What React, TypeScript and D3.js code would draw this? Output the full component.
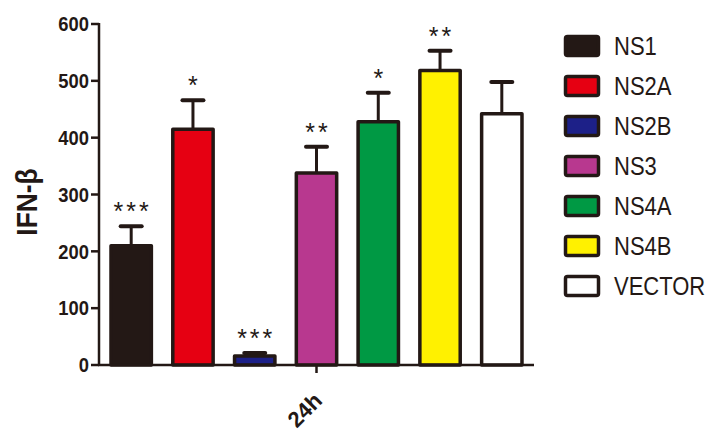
import React from "react";
import * as d3 from "d3";

const categories = ["NS1", "NS2A", "NS2B", "NS3", "NS4A", "NS4B", "VECTOR"];
const means = [210, 415, 16, 338, 428, 518, 442];
const errors = [34, 51, 5, 46, 51, 35, 56];
const stars = ["***", "*", "***", "**", "*", "**", ""];
const colors = ["#231815", "#e60012", "#1d2088", "#b8388f", "#009944", "#fff100", "#ffffff"];
const yTicks = [0, 100, 200, 300, 400, 500, 600];
const groupLabel = "24h";
const yTitle = "IFN-β";

const ink = "#231815";
const font = "'Liberation Sans', Arial, sans-serif";

export default function App() {
  const y = d3.scaleLinear().domain([0, 600]).range([365, 24]);
  const x = d3
    .scaleBand<string>()
    .domain(categories)
    .range([100, 533])
    .paddingInner(0.29)
    .paddingOuter(0.15);
  const bw = x.bandwidth();
  const sw = 3.5;
  const centerX = (x(categories[0])! + x(categories[categories.length - 1])! + bw) / 2;

  return (
    <svg
      width={724}
      height={444}
      style={{ position: "absolute", left: 0, top: 0, background: "#fff" }}
      fontFamily={font}
    >
      {/* bars */}
      {categories.map((c, i) => {
        const x0 = x(c)!;
        const top = y(means[i]);
        const cx = x0 + bw / 2;
        const capY = y(means[i] + errors[i]);
        return (
          <g key={c}>
            <line x1={cx} x2={cx} y1={top} y2={capY} stroke={ink} strokeWidth={3} />
            <line
              x1={cx - 10.5}
              x2={cx + 10.5}
              y1={capY}
              y2={capY}
              stroke={ink}
              strokeWidth={4}
              strokeLinecap="round"
            />
            <rect
              x={x0 + sw / 2}
              y={top}
              width={bw - sw}
              height={y(0) - top}
              fill={colors[i]}
              stroke={ink}
              strokeWidth={sw}
              strokeLinejoin="round"
            />
            {stars[i] && (
              <text
                x={cx + 1.5}
                y={capY - 6}
                textAnchor="middle"
                fontSize={25}
                letterSpacing={3}
                fill={ink}
              >
                {stars[i]}
              </text>
            )}
          </g>
        );
      })}

      {/* y axis */}
      <line x1={99} x2={99} y1={y(600) - 1} y2={y(0) + 1} stroke={ink} strokeWidth={2.5} />
      {yTicks.map((t) => (
        <g key={t}>
          <line x1={91} x2={99} y1={y(t)} y2={y(t)} stroke={ink} strokeWidth={2.5} />
          <text
            transform={`translate(89,${y(t)}) scale(0.92,1)`}
            dy="0.36em"
            textAnchor="end"
            fontSize={20}
            fontWeight="bold"
            fill={ink}
          >
            {t}
          </text>
        </g>
      ))}

      {/* x axis */}
      <line x1={98} x2={534} y1={y(0)} y2={y(0)} stroke={ink} strokeWidth={2.5} />
      <line x1={centerX} x2={centerX} y1={y(0)} y2={y(0) + 8} stroke={ink} strokeWidth={2.5} />
      <text
        transform={`translate(${centerX + 7},${y(0) + 37}) rotate(-45)`}
        textAnchor="end"
        fontSize={22}
        fontWeight="bold"
        fill={ink}
      >
        {groupLabel}
      </text>

      {/* y title */}
      <text
        transform="translate(37,202) rotate(-90) scale(0.88,1)"
        textAnchor="middle"
        fontSize={30}
        fontWeight="bold"
        fill={ink}
      >
        {yTitle}
      </text>

      {/* legend */}
      {categories.map((c, i) => {
        const ly = 46 + i * 40;
        return (
          <g key={"lg" + c}>
            <rect
              x={565.5}
              y={ly - 9.5}
              width={33}
              height={19}
              rx={2}
              fill={colors[i]}
              stroke={ink}
              strokeWidth={3.5}
            />
            <text
              transform={`translate(614,${ly}) scale(0.88,1)`}
              dy="0.36em"
              fontSize={25}
              fill={ink}
            >
              {c}
            </text>
          </g>
        );
      })}
    </svg>
  );
}
